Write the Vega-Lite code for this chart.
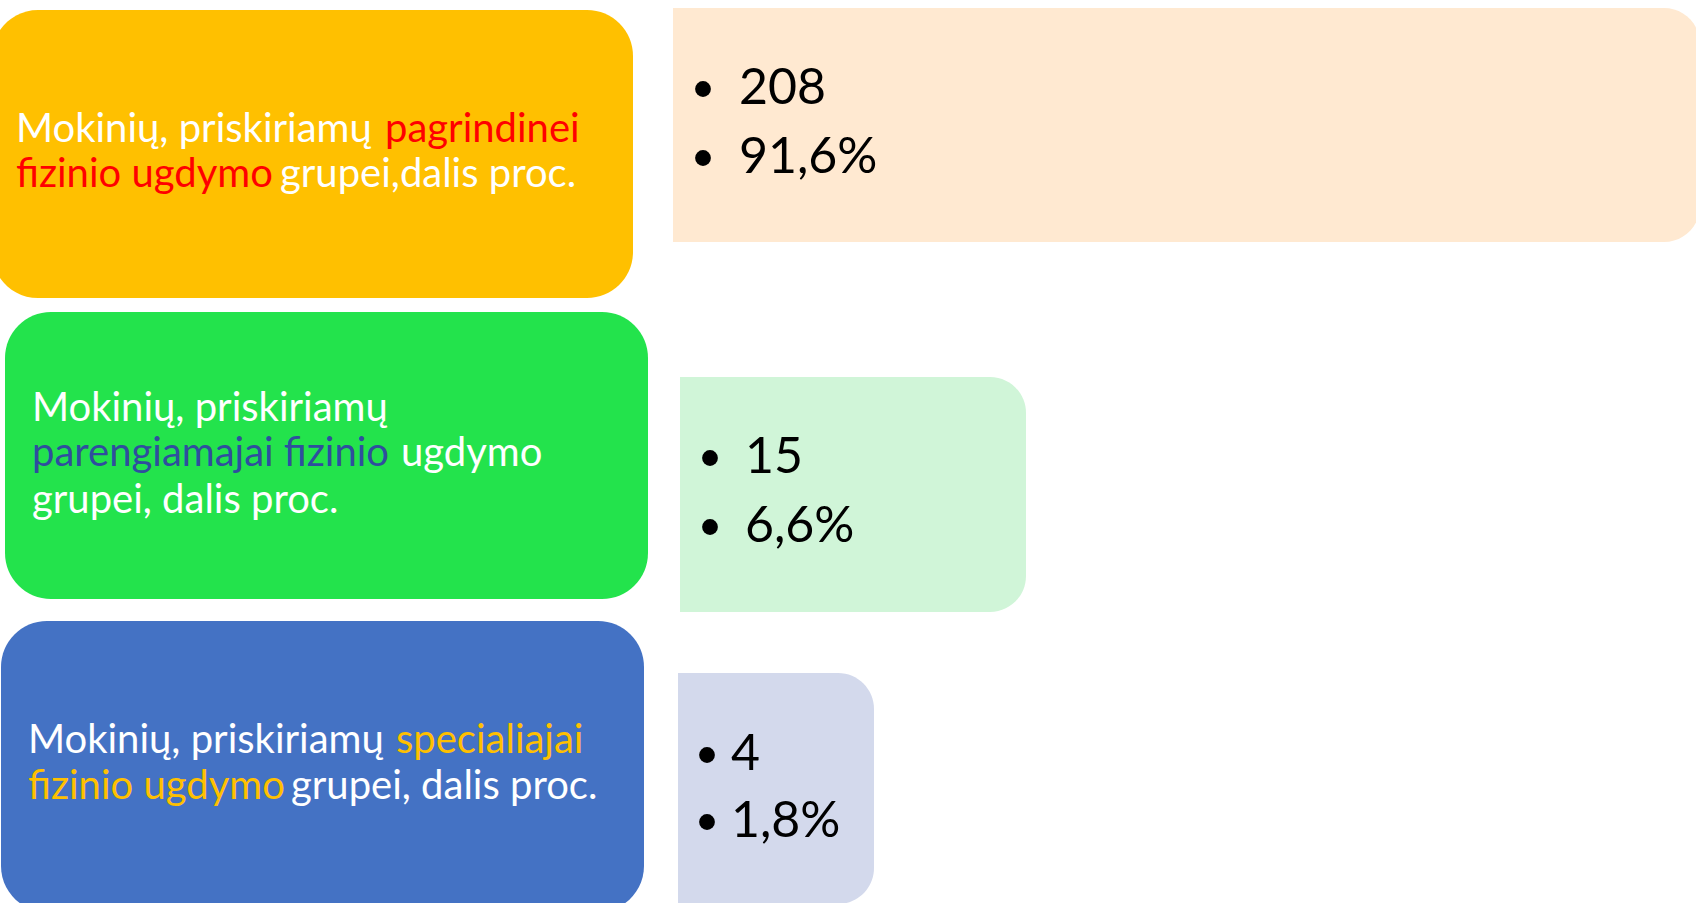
{
  "$schema": "https://vega.github.io/schema/vega-lite/v6.json",
  "width": 1696,
  "height": 903,
  "autosize": {"type": "fit", "contains": "padding"},
  "padding": 0,
  "background": "white",
  "config": {"view": {"stroke": null}},
  "datasets": {
    "labelBoxes": [
      {"key": "boxMain", "x": -8, "x2": 633, "y": 10, "y2": 298},
      {"key": "boxPrep", "x": 5, "x2": 648, "y": 312, "y2": 599},
      {"key": "boxSpec", "x": 1, "x2": 644, "y": 621, "y2": 912}
    ],
    "valueBoxes": [
      {"key": "valMain", "x": 673, "x2": 1700, "y": 8, "y2": 242},
      {"key": "valPrep", "x": 680, "x2": 1026, "y": 377, "y2": 612},
      {"key": "valSpec", "x": 678, "x2": 874, "y": 673, "y2": 904}
    ],
    "labels": [
      {"text": "Mokinių, priskiriamų", "tone": "plain", "x": 16, "y": 130},
      {"text": "pagrindinei", "tone": "red", "x": 385, "y": 130},
      {"text": "fizinio ugdymo", "tone": "red", "x": 16, "y": 175},
      {"text": "grupei,dalis proc.", "tone": "plain", "x": 280, "y": 175},
      {"text": "Mokinių, priskiriamų", "tone": "plain", "x": 32, "y": 409},
      {"text": "parengiamajai fizinio", "tone": "navy", "x": 32, "y": 454},
      {"text": "ugdymo", "tone": "plain", "x": 401, "y": 454},
      {"text": "grupei, dalis proc.", "tone": "plain", "x": 32, "y": 501},
      {"text": "Mokinių, priskiriamų", "tone": "plain", "x": 28, "y": 741},
      {"text": "specialiajai", "tone": "gold", "x": 396, "y": 741},
      {"text": "fizinio ugdymo", "tone": "gold", "x": 28, "y": 787},
      {"text": "grupei, dalis proc.", "tone": "plain", "x": 291, "y": 787}
    ],
    "values": [
      {"text": "208", "bx": 703, "x": 739, "y": 89},
      {"text": "91,6%", "bx": 703, "x": 739, "y": 158},
      {"text": "15", "bx": 710, "x": 745, "y": 458},
      {"text": "6,6%", "bx": 710, "x": 745, "y": 527},
      {"text": "4", "bx": 707, "x": 731, "y": 755},
      {"text": "1,8%", "bx": 707, "x": 731, "y": 822}
    ]
  },
  "layer": [
    {
      "data": {"name": "valueBoxes"},
      "mark": {"type": "rect", "clip": true, "cornerRadiusTopRight": 36, "cornerRadiusBottomRight": 36},
      "encoding": {
        "x": {"field": "x", "type": "quantitative", "scale": {"domain": [0, 1696], "nice": false, "zero": false}, "axis": null},
        "x2": {"field": "x2"},
        "y": {"field": "y", "type": "quantitative", "scale": {"domain": [0, 903], "nice": false, "zero": false, "reverse": true}, "axis": null},
        "y2": {"field": "y2"},
        "color": {"field": "key", "type": "nominal", "legend": null,
          "scale": {"domain": ["boxMain", "boxPrep", "boxSpec", "valMain", "valPrep", "valSpec", "plain", "red", "navy", "gold", "value"],
                    "range": ["#FFC000", "#23E34C", "#4472C4", "#FFE9D1", "#D0F5D8", "#D3D9EC", "#FFFFFF", "#FF0000", "#2F4E9E", "#FFC000", "#000000"]}}
      }
    },
    {
      "data": {"name": "labelBoxes"},
      "mark": {"type": "rect", "clip": true, "cornerRadius": 46},
      "encoding": {
        "x": {"field": "x", "type": "quantitative", "axis": null},
        "x2": {"field": "x2"},
        "y": {"field": "y", "type": "quantitative", "axis": null},
        "y2": {"field": "y2"},
        "color": {"field": "key", "type": "nominal", "legend": null}
      }
    },
    {
      "data": {"name": "labels"},
      "mark": {"type": "text", "align": "left", "baseline": "middle", "font": "Lato", "fontSize": 40},
      "encoding": {
        "x": {"field": "x", "type": "quantitative", "axis": null},
        "y": {"field": "y", "type": "quantitative", "axis": null},
        "text": {"field": "text"},
        "color": {"field": "tone", "type": "nominal", "legend": null}
      }
    },
    {
      "data": {"name": "values"},
      "mark": {"type": "point", "shape": "circle", "filled": true, "size": 250, "color": "#000000", "opacity": 1},
      "encoding": {
        "x": {"field": "bx", "type": "quantitative", "axis": null},
        "y": {"field": "y", "type": "quantitative", "axis": null}
      }
    },
    {
      "data": {"name": "values"},
      "mark": {"type": "text", "align": "left", "baseline": "middle", "font": "Lato", "fontSize": 50, "color": "#000000"},
      "encoding": {
        "x": {"field": "x", "type": "quantitative", "axis": null},
        "y": {"field": "y", "type": "quantitative", "axis": null},
        "text": {"field": "text"}
      }
    }
  ]
}
